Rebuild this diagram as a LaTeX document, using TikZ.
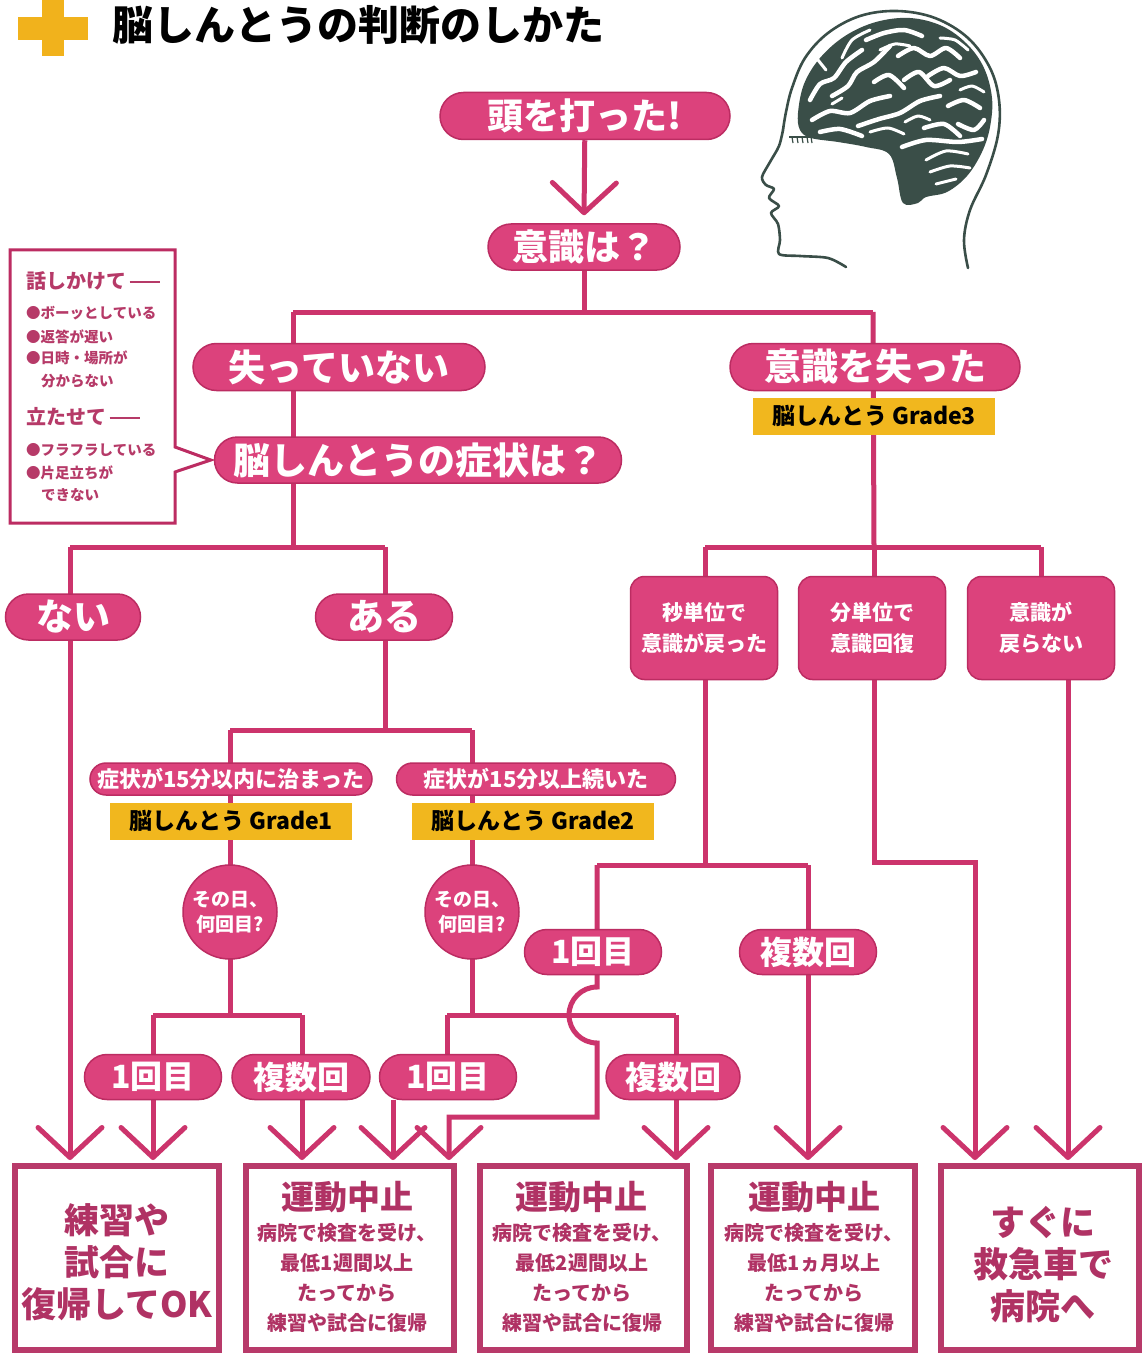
\documentclass[tikz,border=0pt]{standalone}
\usepackage{fontspec}
\setmainfont{Noto Sans CJK JP}
\usetikzlibrary{arrows.meta,shapes.misc,backgrounds,calc}

\definecolor{pinkfill}{RGB}{220,66,124}
\definecolor{pinkedge}{RGB}{188,44,98}
\definecolor{wirecol}{RGB}{204,52,108}
\definecolor{boxedge}{RGB}{184,58,106}
\definecolor{boxink}{RGB}{176,50,100}
\definecolor{noteink}{RGB}{182,58,104}
\definecolor{tagfill}{RGB}{241,183,30}
\definecolor{headink}{RGB}{58,78,72}
\definecolor{crossgold}{RGB}{241,178,28}

\newcommand\fsz[1]{\fontsize{#1}{#1}\selectfont}

\tikzset{
  pill/.style={rounded rectangle, fill=pinkfill, draw=pinkedge, line width=1.5pt,
    text=white, inner sep=0pt},
  tag/.style={rectangle, fill=tagfill, text=black, inner sep=0pt,
    minimum width=242pt, minimum height=37pt, font=\bfseries\fsz{23}},
  ask/.style={circle, fill=pinkfill, draw=pinkedge, line width=1.5pt, text=white,
    minimum size=94pt, inner sep=0pt, align=center,
    font=\bfseries\fontsize{19}{25}\selectfont},
  timebox/.style={rectangle, rounded corners=14pt, fill=pinkfill, draw=pinkedge,
    line width=1.5pt, text=white, minimum width=147pt, minimum height=103pt,
    inner sep=0pt, align=center, font=\bfseries\fontsize{21}{31}\selectfont},
  outbox/.style={rectangle, draw=boxedge, fill=white, line width=6pt,
    minimum height=184pt, inner sep=0pt},
  bigword/.style={text=boxink, align=center, font=\bfseries\fontsize{35}{42}\selectfont},
  headword/.style={text=boxink, font=\bfseries\fsz{33}},
  bodyword/.style={text=boxink, align=center, font=\bfseries\fontsize{20}{30}\selectfont},
  noteline/.style={anchor=west, text=noteink, inner sep=0pt},
  wire/.style={draw=wirecol, line width=5pt},
  vtip/.style={-{Straight Barb[length=30pt,width=64pt,round]}, shorten >=3pt},
  brainline/.style={draw=white, line width=4.5pt, line cap=round, line join=round},
}

\begin{document}
\begin{tikzpicture}[x=1pt,y=-1pt]
\useasboundingbox (0,0) rectangle (1145,1356);

% ---------- heading ----------
\fill[crossgold] (42,0) rectangle (64,56);
\fill[crossgold] (18,17) rectangle (88,40);
\node[anchor=west, inner sep=0pt, font=\bfseries\fsz{41}] (title) at (112,25) {脳しんとうの判断のしかた};

% ---------- head with brain ----------
\draw[headink, line width=2.6pt, line cap=round, line join=round]
  plot[smooth, tension=0.6] coordinates {(968,268) (964,240) (970,210) (986,175) (998,135) (999,100) (990,68) (968,38) (935,18) (897,11) (860,16) (828,33) (805,58) (792,88) (786,112) (783,130)};
\draw[headink, line width=2.6pt, line cap=round, line join=round]
  plot[smooth, tension=0.5] coordinates {(783,130) (779,146) (770,162) (762,177) (766,185) (774,189) (769,198) (779,206) (771,213) (778,224) (780,240) (779,254) (800,256) (828,258) (846,267)};
\draw[headink, line width=1.6pt] (789,137) -- (812,137);
\foreach \k in {792,797,802,807,811} \draw[headink, line width=1.2pt] (\k,137) -- (\k+1,143);
\fill[headink] plot[smooth cycle, tension=0.6] coordinates {(798,113) (804,84) (820,58) (845,36) (876,22) (910,18) (942,26) (967,44) (984,68) (992,98) (990,127) (982,152) (967,176) (947,192) (926,197) (918,203) (903,203) (897,178) (889,154) (866,147) (838,142) (811,138) (800,130)};
% gyri
\draw[brainline] plot[smooth] coordinates {(810,100) (820,84) (834,78) (846,62) (862,50)};
\draw[brainline] plot[smooth] coordinates {(832,96) (848,86) (857,72) (874,62) (890,46)};
\draw[brainline] plot[smooth] coordinates {(866,40) (884,33) (904,30) (922,36)};
\draw[brainline] plot[smooth] coordinates {(898,56) (914,48) (930,56) (946,48) (960,58)};
\draw[brainline] plot[smooth] coordinates {(928,76) (944,68) (960,76) (976,72)};
\draw[brainline] plot[smooth] coordinates {(812,120) (830,111) (850,113) (870,101) (890,96)};
\draw[brainline] plot[smooth] coordinates {(858,126) (879,119) (900,113) (920,101) (940,96)};
\draw[brainline] plot[smooth] coordinates {(904,80) (919,72) (934,86) (950,80)};
\draw[brainline] plot[smooth] coordinates {(874,82) (889,75) (904,88)};
\draw[brainline] plot[smooth] coordinates {(948,106) (964,100) (980,108)};
\draw[brainline] plot[smooth] coordinates {(820,132) (840,129) (862,136)};
\draw[brainline] plot[smooth] coordinates {(924,128) (944,124) (960,136)};
\draw[brainline] plot[smooth] coordinates {(958,124) (974,130) (984,120)};
\draw[brainline] plot[smooth] coordinates {(902,147) (926,140) (958,142) (982,139)};
\draw[brainline, line width=3pt] plot[smooth] coordinates {(926,160) (946,151) (968,154)};
\draw[brainline, line width=3pt] plot[smooth] coordinates {(930,172) (950,166) (970,168)};
\draw[brainline, line width=3pt] plot[smooth] coordinates {(936,184) (956,179)};
\draw[brainline, line width=3pt] plot[smooth] coordinates {(842,58) (852,40) (870,30)};
\draw[brainline, line width=3pt] plot[smooth] coordinates {(826,70) (818,60)};
\draw[brainline, line width=3pt] plot[smooth] coordinates {(880,50) (895,44) (910,46)};
\draw[brainline, line width=3pt] plot[smooth] coordinates {(940,38) (955,40) (968,50)};
\draw[brainline, line width=3pt] plot[smooth] coordinates {(960,90) (972,86) (984,92)};
\draw[brainline, line width=3pt] plot[smooth] coordinates {(870,132) (888,128) (904,134)};
\draw[brainline, line width=3pt] plot[smooth] coordinates {(905,122) (918,116) (930,120)};
\draw[brainline, line width=3pt] plot[smooth] coordinates {(832,104) (842,98)};

% ---------- flow nodes ----------
\node[pill, minimum width=290pt, minimum height=47pt, font=\bfseries\fsz{36}] (hit) at (585,116) {頭を打った!};
\node[pill, minimum width=192pt, minimum height=46pt, font=\bfseries\fsz{36}] (q) at (584,247) {意識は？};
\node[pill, minimum width=292pt, minimum height=47pt, font=\bfseries\fsz{37}] (nolose) at (339,367) {失っていない};
\node[pill, minimum width=290pt, minimum height=47pt, font=\bfseries\fsz{37}] (lost) at (875,367) {意識を失った};
\node[tag] (g3) at (874,416) {脳しんとう Grade3};
\node[pill, minimum width=407pt, minimum height=46pt, font=\bfseries\fsz{37}] (sym) at (418,460) {脳しんとうの症状は？};
\node[pill, minimum width=135pt, minimum height=46pt, font=\bfseries\fsz{37}] (none) at (73,617) {ない};
\node[pill, minimum width=137pt, minimum height=46pt, font=\bfseries\fsz{37}] (some) at (384,617) {ある};
\node[pill, minimum width=282pt, minimum height=32pt, font=\bfseries\fsz{22}] (in15) at (231,779) {症状が15分以内に治まった};
\node[pill, minimum width=279pt, minimum height=32pt, font=\bfseries\fsz{22}] (over15) at (536,779) {症状が15分以上続いた};
\node[tag] (g1) at (231,821) {脳しんとう Grade1};
\node[tag] (g2) at (533,821) {脳しんとう Grade2};
\node[ask] (c1) at (230,912) {その日、\\何回目?};
\node[ask] (c2) at (472,912) {その日、\\何回目?};
\node[pill, minimum width=137pt, minimum height=45pt, font=\bfseries\fsz{32}] (o1a) at (153,1077) {1回目};
\node[pill, minimum width=138pt, minimum height=45pt, font=\bfseries\fsz{32}] (m1a) at (301,1077) {複数回};
\node[pill, minimum width=137pt, minimum height=45pt, font=\bfseries\fsz{32}] (o1b) at (448,1077) {1回目};
\node[pill, minimum width=134pt, minimum height=45pt, font=\bfseries\fsz{32}] (m1b) at (673,1077) {複数回};
\node[timebox] (s1) at (704,628) {秒単位で\\意識が戻った};
\node[timebox] (s2) at (872,628) {分単位で\\意識回復};
\node[timebox] (s3) at (1041,628) {意識が\\戻らない};
\node[pill, minimum width=137pt, minimum height=45pt, font=\bfseries\fsz{32}] (o2) at (593,952) {1回目};
\node[pill, minimum width=137pt, minimum height=45pt, font=\bfseries\fsz{32}] (m2) at (808,952) {複数回};

% ---------- outcome boxes ----------
\node[outbox, minimum width=204pt] (r1) at (117,1258) {};
\node[outbox, minimum width=208pt] (r2) at (350,1258) {};
\node[outbox, minimum width=207pt] (r3) at (583.5,1258) {};
\node[outbox, minimum width=204pt] (r4) at (813,1258) {};
\node[outbox, minimum width=198pt] (r5) at (1040,1258) {};
\node[bigword] (r1t) at (117,1262) {練習や\\試合に\\復帰してOK};
\node[headword] (r2h) at (347,1197) {運動中止};
\node[bodyword] (r2b) at (347,1278) {病院で検査を受け、\\最低1週間以上\\たってから\\練習や試合に復帰};
\node[headword] (r3h) at (581,1197) {運動中止};
\node[bodyword] (r3b) at (582,1278) {病院で検査を受け、\\最低2週間以上\\たってから\\練習や試合に復帰};
\node[headword] (r4h) at (814,1197) {運動中止};
\node[bodyword] (r4b) at (814,1278) {病院で検査を受け、\\最低1ヵ月以上\\たってから\\練習や試合に復帰};
\node[bigword] (r5t) at (1043,1265) {すぐに\\救急車で\\病院へ};

% ---------- note with checks ----------
\node[noteline, font=\bfseries\fsz{20}] (h1) at (26,281) {話しかけて\,\rule[0.3em]{1.5em}{2pt}};
\node[noteline, font=\bfseries\fsz{14.5}] (b1) at (26,313) {●ボーッとしている};
\node[noteline, font=\bfseries\fsz{14.5}] (b2) at (26,337) {●返答が遅い};
\node[noteline, font=\bfseries\fsz{14.5}] (b3) at (26,358) {●日時・場所が};
\node[noteline, font=\bfseries\fsz{14.5}] (b4) at (41,381) {分からない};
\node[noteline, font=\bfseries\fsz{20}] (h2) at (26,417) {立たせて\,\rule[0.3em]{1.5em}{2pt}};
\node[noteline, font=\bfseries\fsz{14.5}] (b5) at (26,450) {●フラフラしている};
\node[noteline, font=\bfseries\fsz{14.5}] (b6) at (26,473) {●片足立ちが};
\node[noteline, font=\bfseries\fsz{14.5}] (b7) at (41,495) {できない};

% ---------- junction points ----------
\coordinate (j1) at (584,312);
\coordinate (jL) at (293,312);
\coordinate (jR) at (873,312);
\coordinate (jN) at (293,547);
\coordinate (jA) at (70,547);
\coordinate (jB) at (385,547);
\coordinate (j2) at (385,730);
\coordinate (j2L) at (230,730);
\coordinate (j2R) at (472,730);
\coordinate (j3) at (230,1015);
\coordinate (j3L) at (153,1015);
\coordinate (j3R) at (302,1015);
\coordinate (j4) at (472,1015);
\coordinate (j4L) at (447,1015);
\coordinate (j4R) at (676,1015);
\coordinate (o1bx) at (393,1100);
\coordinate (jG) at (874,547);
\coordinate (jGL) at (705,547);
\coordinate (jGR) at (1041,547);
\coordinate (j5) at (705,865);
\coordinate (j5L) at (597,865);
\coordinate (j5R) at (808,865);
\coordinate (hopA) at (597,987);
\coordinate (bend1) at (597,1117);
\coordinate (bend2) at (449,1117);
\coordinate (j6) at (975,862);
\coordinate (s3x) at (1068,680);

% ---------- connectors ----------
\begin{pgfonlayer}{background}
\fill[white] (0,0) rectangle (1145,1356);
\draw[wire, vtip] (hit) -- ($(q.north)+(0,-5)$);
\draw[wire] (q) -- (j1);
\draw[wire] (jL) -- (jR);
\draw[wire] (jL) -- (jN);
\draw[wire] (jR) -- (jG);
\draw[wire] (jA) -- (jB);
\draw[wire, vtip] (jA) -- (r1.north -| jA);
\draw[wire] (jB) -- (j2);
\draw[wire] (j2L) -- (j2R);
\draw[wire] (j2L) -- (j3);
\draw[wire] (j2R) -- (j4);
\draw[wire] (j3L) -- (j3R);
\draw[wire, vtip] (j3L) -- (r1.north -| j3L);
\draw[wire, vtip] (j3R) -- (r2.north -| j3R);
\draw[wire] (j4L) -- (j4R);
\draw[wire] (j4L) -- (o1b.north -| j4L);
\draw[wire, vtip] (o1bx) -- (r2.north -| o1bx);
\draw[wire, vtip] (j4R) -- (r3.north -| j4R);
\draw[wire] (jGL) -- (jGR);
\draw[wire] (jGL) -- (s1.north -| jGL);
\draw[wire] (jG) -- (s2.north -| jG);
\draw[wire] (jGR) -- (s3.north -| jGR);
\draw[wire] (s1.south -| j5) -- (j5);
\draw[wire] (j5L) -- (j5R);
\draw[wire, vtip] (j5L) -- (hopA) arc[start angle=270, end angle=90, radius=28] -- (bend1) -- (bend2) -- (r2.north -| bend2);
\draw[wire, vtip] (j5R) -- (r4.north -| j5R);
\draw[wire, vtip] (s2.south -| jG) |- (j6) -- (r5.north -| j6);
\draw[wire, vtip] (s3x) -- (r5.north -| s3x);
\end{pgfonlayer}

% note outline with pointer
\draw[draw=pinkedge, line width=3pt, line join=miter]
  (175,447) -- (175,250) -- (10,250) -- (10,523) -- (175,523) -- (175,472) -- ($(sym.west)+(-3,0)$) -- cycle;
\end{tikzpicture}
\end{document}
